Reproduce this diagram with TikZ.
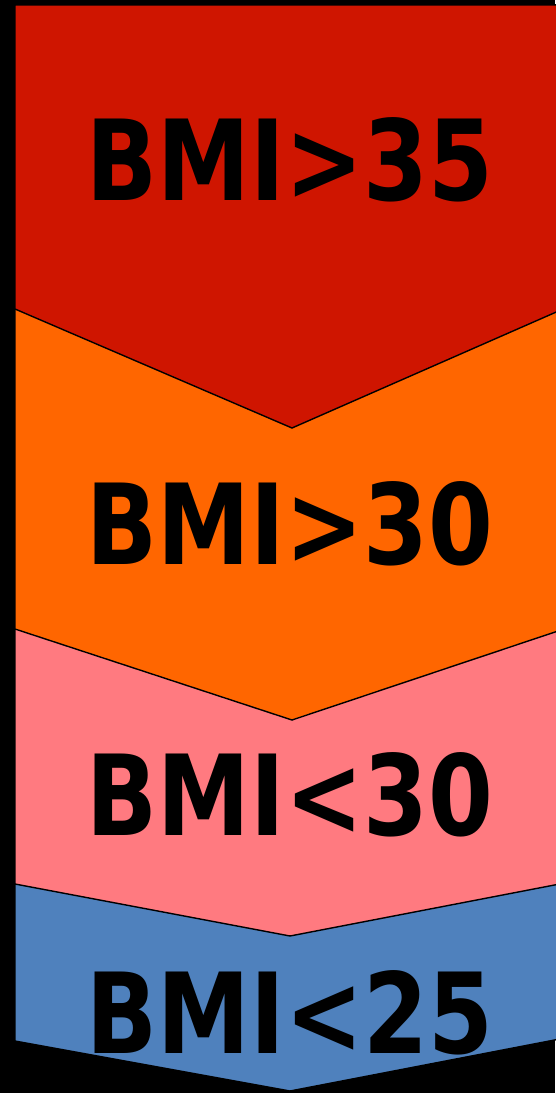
\documentclass[tikz,border=0pt]{standalone}
\usepackage{fontspec}
\setmainfont{DejaVu Sans}
\usepackage{tikz}

\definecolor{bmired}{RGB}{207,21,0}
\definecolor{bmiorange}{RGB}{255,102,0}
\definecolor{bmipink}{RGB}{255,122,128}
\definecolor{bmiblue}{RGB}{79,129,189}

\newcommand{\bmilabel}[1]{\resizebox{8.12cm}{1.66cm}{\bfseries #1}}

\tikzset{band/.style={draw=black, line width=0.8pt, line join=miter}}

\begin{document}
\begin{tikzpicture}[x=0.02cm, y=-0.02cm]
\useasboundingbox (0,0) rectangle (555,1093);
\fill[black] (0,0) rectangle (555,1093);
% bands, lowest first (right ends run past the page edge)
\filldraw[band, fill=bmiblue] (15,5) -- (570,5) -- (570,1037) -- (290,1091) -- (15,1041) -- cycle;
\filldraw[band, fill=bmipink] (15,5) -- (570,5) -- (570,882) -- (290,936) -- (15,884) -- cycle;
\filldraw[band, fill=bmiorange] (15,5) -- (570,5) -- (570,627) -- (292,720) -- (15,629) -- cycle;
\filldraw[band, fill=bmired] (15,5) -- (570,5) -- (570,306) -- (292,428) -- (15,309) -- cycle;
% labels
\node (over35) at (290,160) {\bmilabel{BMI>35}};
\node (over30) at (290,524) {\bmilabel{BMI>30}};
\node (under30) at (290,795) {\bmilabel{BMI<30}};
\node (under25) at (290,1013) {\bmilabel{BMI<25}};
\end{tikzpicture}
\end{document}
